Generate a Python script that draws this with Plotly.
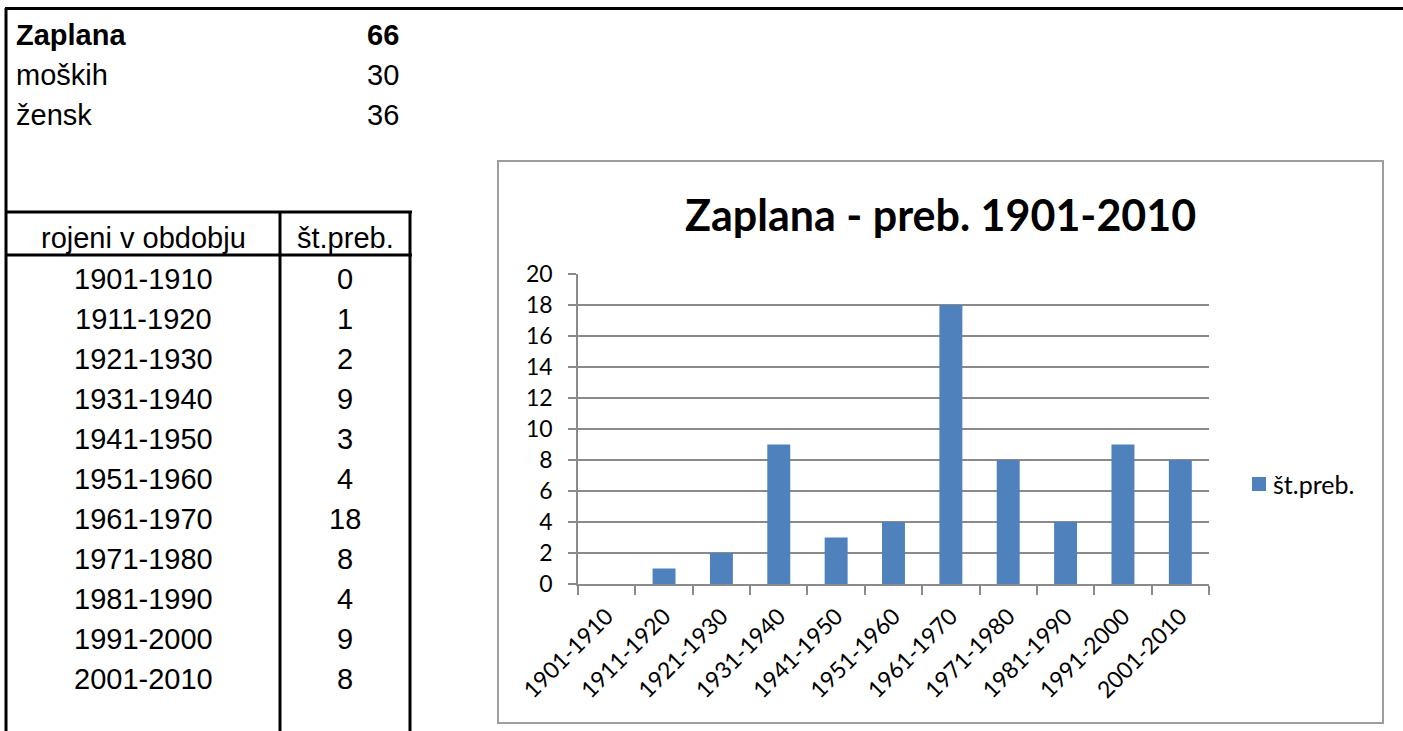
import plotly.graph_objects as go

W, H = 1403, 731

# ---- data ----
summary_labels = ["Zaplana", "moških", "žensk"]
summary_values = [66, 30, 36]
table_header = ["rojeni v obdobju", "št.preb."]
periods = ["1901-1910", "1911-1920", "1921-1930", "1931-1940", "1941-1950",
           "1951-1960", "1961-1970", "1971-1980", "1981-1990", "1991-2000", "2001-2010"]
counts = [0, 1, 2, 9, 3, 4, 18, 8, 4, 9, 8]
series_name = "št.preb."
chart_title = "Zaplana - preb. 1901-2010"
bar_color = "#4F81BD"

def px(x):
    return x / W

def py(y):
    return 1 - y / H

fig = go.Figure()
fig.add_trace(go.Bar(x=periods, y=counts, name=series_name, showlegend=False,
                     marker=dict(color=bar_color, line=dict(width=0))))

shapes = []
def line(x0, y0, x1, y1, w=3, c="black"):
    shapes.append(dict(type="line", xref="paper", yref="paper",
                       x0=px(x0), y0=py(y0), x1=px(x1), y1=py(y1),
                       line=dict(color=c, width=w)))

# spreadsheet borders
line(5, 8.5, W, 8.5)
line(6, 8, 6, H)
line(5, 212, 412, 212)
line(5, 255, 412, 255)
line(280, 212, 280, H)
line(410, 212, 410, H)

# chart border
shapes.append(dict(type="rect", xref="paper", yref="paper",
                   x0=px(498), y0=py(723), x1=px(1383), y1=py(161),
                   line=dict(color="#9d9d9d", width=2), layer="below"))

# legend key (Excel-style square)
shapes.append(dict(type="rect", xref="paper", yref="paper",
                   x0=px(1252), y0=py(491), x1=px(1266), y1=py(477),
                   fillcolor=bar_color, line=dict(width=0)))

ann = []
tfont = "Liberation Sans, Arial, sans-serif"
TS = 29
row_y = [35, 75, 115]
for i, (lab, val) in enumerate(zip(summary_labels, summary_values)):
    bold = i == 0
    t1 = f"<b>{lab}</b>" if bold else lab
    t2 = f"<b>{val}</b>" if bold else str(val)
    ann.append(dict(text=t1, x=px(14), y=py(row_y[i]), xref="paper", yref="paper",
                    xanchor="left", yanchor="middle", showarrow=False,
                    font=dict(family=tfont, size=TS, color="black")))
    ann.append(dict(text=t2, x=px(401), y=py(row_y[i]), xref="paper", yref="paper",
                    xanchor="right", yanchor="middle", showarrow=False,
                    font=dict(family=tfont, size=TS, color="black")))

ann.append(dict(text=table_header[0], x=px(143), y=py(238), xref="paper", yref="paper",
                xanchor="center", yanchor="middle", showarrow=False,
                font=dict(family=tfont, size=TS, color="black")))
ann.append(dict(text=table_header[1], x=px(345), y=py(238), xref="paper", yref="paper",
                xanchor="center", yanchor="middle", showarrow=False,
                font=dict(family=tfont, size=TS, color="black")))
for i, (p, c) in enumerate(zip(periods, counts)):
    yy = 279 + 40 * i
    ann.append(dict(text=p, x=px(143), y=py(yy), xref="paper", yref="paper",
                    xanchor="center", yanchor="middle", showarrow=False,
                    font=dict(family=tfont, size=TS, color="black")))
    ann.append(dict(text=str(c), x=px(345), y=py(yy), xref="paper", yref="paper",
                    xanchor="center", yanchor="middle", showarrow=False,
                    font=dict(family=tfont, size=TS, color="black")))

cfont = "Lato, sans-serif"

# chart title
ann.append(dict(text=f"<b>{chart_title}</b>", x=px(941), y=py(214), xref="paper", yref="paper",
                xanchor="center", yanchor="middle", showarrow=False,
                font=dict(family=cfont, size=43, color="black")))

# legend text
ann.append(dict(text=series_name, x=px(1271), y=py(484), xref="paper", yref="paper",
                xanchor="left", yanchor="middle", showarrow=False,
                font=dict(family=cfont, size=25, color="black")))

grid = "#8a8a8a"
fig.update_layout(
    width=W, height=H, autosize=False,
    margin=dict(l=0, r=0, t=0, b=0, pad=0, autoexpand=False),
    paper_bgcolor="white", plot_bgcolor="white",
    shapes=shapes, annotations=ann,
    bargap=0.6,
    showlegend=False,
    xaxis=dict(domain=[px(578), px(1209)], type="category", range=[-0.5, 10.5],
               tickson="boundaries", ticks="outside", ticklen=9, tickwidth=1.5,
               tickcolor=grid, showline=True, linecolor=grid, linewidth=1.5,
               showgrid=False, tickangle=-45, automargin=False,
               ticklabelstandoff=8,
               tickfont=dict(family=cfont, size=23, color="black")),
    yaxis=dict(domain=[py(584), py(274)], range=[0, 20], dtick=2, tick0=0,
               ticks="outside", ticklen=8, tickwidth=1.5, tickcolor=grid,
               showline=True, linecolor=grid, linewidth=1.5,
               showgrid=True, gridcolor=grid, gridwidth=1.5, zeroline=False,
               ticklabelstandoff=11, automargin=False,
               tickfont=dict(family=cfont, size=23, color="black")),
)

fig.write_html("out.html", config={"displayModeBar": False},
               post_script="document.body.style.margin='0';document.body.style.overflow='hidden';")
